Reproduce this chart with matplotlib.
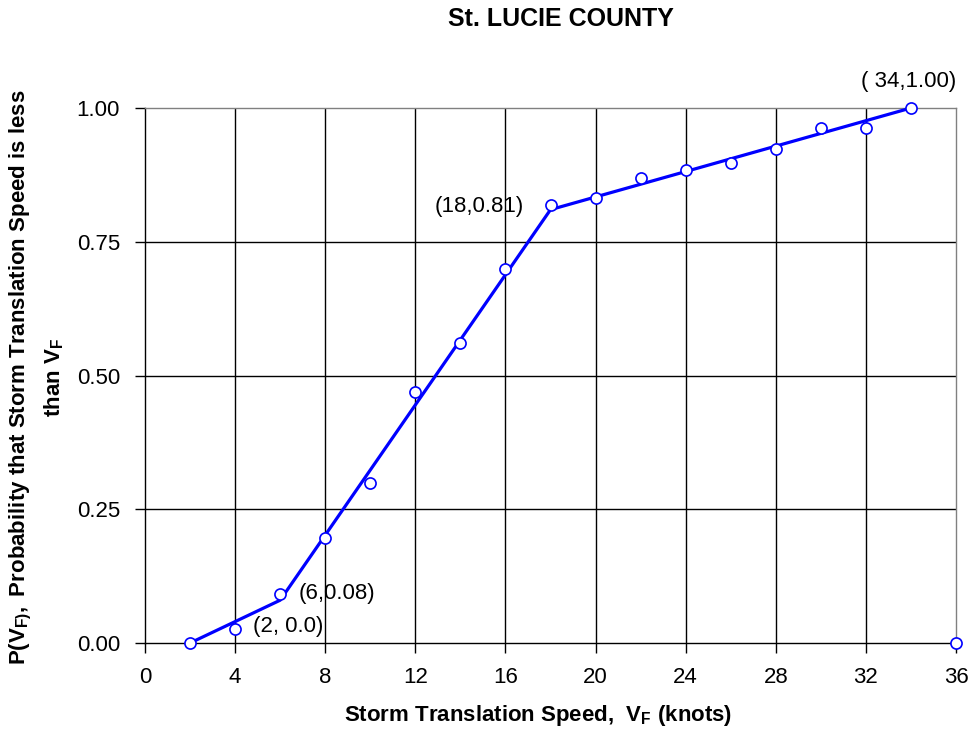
import matplotlib
matplotlib.use("Agg")
import matplotlib.pyplot as plt

plt.rcParams['font.family'] = ['Liberation Sans', 'DejaVu Sans']
plt.rcParams['mathtext.fontset'] = 'custom'
plt.rcParams['mathtext.rm'] = 'Liberation Sans:bold'
plt.rcParams['mathtext.it'] = 'Liberation Sans:bold'
plt.rcParams['mathtext.bf'] = 'Liberation Sans:bold'
plt.rcParams['mathtext.default'] = 'rm'

# Observed points
vf_points = [2, 4, 6, 8, 10, 12, 14, 16, 18, 20, 22, 24, 26, 28, 30, 32, 34, 36]
prob_points = [0.0, 0.026, 0.092, 0.196, 0.30, 0.469, 0.56, 0.70, 0.819, 0.831,
               0.870, 0.884, 0.897, 0.923, 0.962, 0.962, 1.0, 0.0]

# Fitted piecewise line
line_x = [2, 6, 18, 34]
line_y = [0.0, 0.08, 0.81, 1.00]

# Annotations
ann_labels = ["(2, 0.0)", "(6,0.08)", "(18,0.81)", "( 34,1.00)"]
ann_x = [4.8, 6.8, 16.8, 33.9]
ann_y = [0.030, 0.093, 0.815, 1.049]
ann_ha = ["left", "left", "right", "center"]

x_ticks = [0, 4, 8, 12, 16, 20, 24, 28, 32, 36]
y_ticks = [0.0, 0.25, 0.5, 0.75, 1.0]
y_ticklabels = ["0.00", "0.25", "0.50", "0.75", "1.00"]

fig = plt.figure(figsize=(9.72, 7.33), dpi=100)
ax = fig.add_axes([145/972, 1-643/733, (956-145)/972, (643-108)/733])

ax.set_xlim(0, 36)
ax.set_ylim(0, 1)

for xv in x_ticks[1:-1]:
    ax.axvline(xv, color='black', lw=1.0, zorder=1)
for yv in y_ticks[1:-1]:
    ax.axhline(yv, color='black', lw=1.0, zorder=1)

ax.plot(line_x, line_y, color='#0000FF', lw=2.3, zorder=3, clip_on=False)
ax.plot(vf_points, prob_points, linestyle='none', marker='o', markersize=8,
        markerfacecolor='white', markeredgecolor='#0000FF', markeredgewidth=1.2,
        zorder=4, clip_on=False)

for lab, xx, yy, ha in zip(ann_labels, ann_x, ann_y, ann_ha):
    ax.text(xx, yy, lab, fontsize=16, ha=ha, va='center', color='black', zorder=5)

ax.set_xticks(x_ticks)
ax.set_xticklabels([str(v) for v in x_ticks], fontsize=16)
ax.set_yticks(y_ticks)
ax.set_yticklabels(y_ticklabels, fontsize=16)
ax.tick_params(axis='both', direction='out', length=7, width=1, color='black')
ax.tick_params(axis='x', pad=10)
ax.tick_params(axis='y', pad=11)

ax.spines['left'].set_color('black')
ax.spines['bottom'].set_color('black')
ax.spines['top'].set_color('#808080')
ax.spines['right'].set_color('#808080')
for s in ax.spines.values():
    s.set_linewidth(1.0)

fig.text(561/972, 1-19/733, "St. LUCIE COUNTY", ha='center', va='center',
         fontsize=18, fontweight='bold')
fig.text(538/972, 1-716/733, r"Storm Translation Speed,  $V_F$ (knots)", ha='center',
         va='center', fontsize=16, fontweight='bold')
fig.text(37/972, 1-377/733,
         "$P(V_{F)},$ Probability that Storm Translation Speed is less\nthan $V_F$",
         rotation=90, ha='center', va='center', fontsize=16, fontweight='bold',
         multialignment='center', linespacing=1.45)

fig.savefig("out.png", dpi=100)
